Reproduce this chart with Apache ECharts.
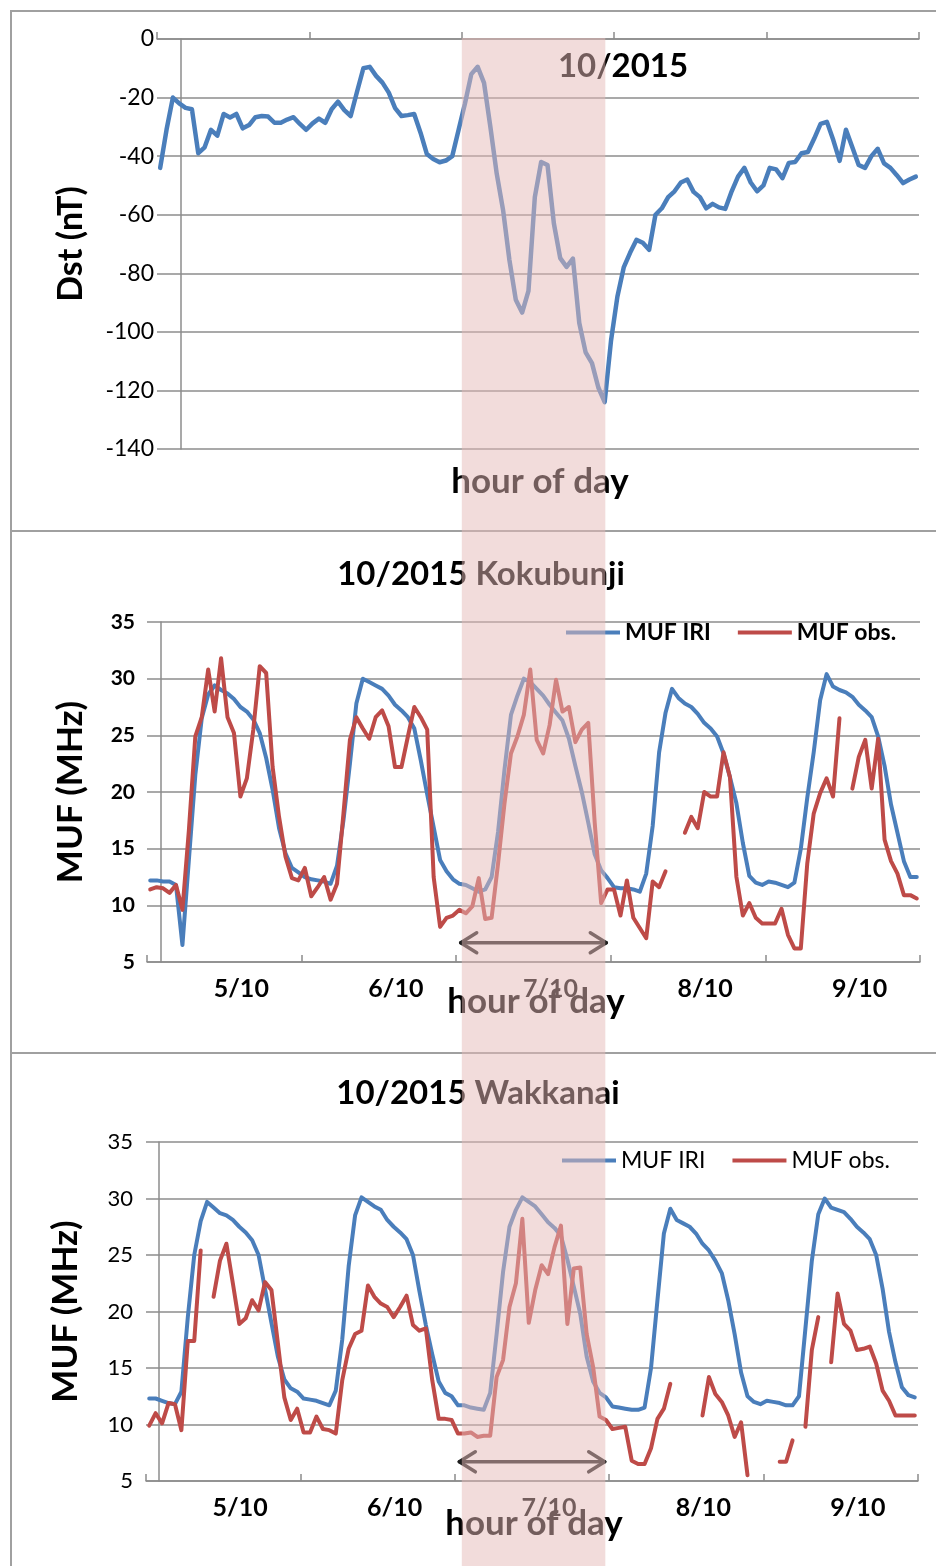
<!DOCTYPE html>
<html>
<head>
<meta charset="utf-8">
<title>Dst and MUF, 5-9/10/2015</title>
<script src="https://cdn.jsdelivr.net/npm/echarts@6/dist/echarts.min.js"></script>
<style>
  html, body { margin: 0; padding: 0; background: #fff; }
  #chart { width: 936px; height: 1566px; }
</style>
</head>
<body>
<div id="chart"></div>
<script>
// hourly values, 5/10 00h .. 9/10 23h (120 hours)
var dayLabels = ['5/10', '6/10', '7/10', '8/10', '9/10'];

var dst = [
  -44, -31, -20, -22, -23.5, -24, -39, -37, -31, -33,
  -25.6, -26.8, -25.6, -30.5, -29.4, -26.7, -26.3, -26.5, -28.6, -28.6,
  -27.5, -26.7, -29, -31, -28.8, -27.2, -28.6, -24, -21.4, -24.3,
  -26.3, -18, -10, -9.5, -12.6, -14.9, -18.3, -23.6, -26.3, -26,
  -25.6, -32, -39.3, -41, -42.1, -41.5, -40, -31, -22, -12,
  -9.5, -15, -30, -46, -58.4, -75.5, -89, -93.4, -86, -54,
  -42, -43, -63, -74.8, -77.8, -75, -97, -107, -110.7, -119,
  -124, -103, -88, -78, -73, -68.6, -69.6, -72, -60, -57.8,
  -54, -52, -49, -48, -52.2, -54, -57.8, -56.3, -57.5, -58,
  -52, -47, -44, -49, -52, -50, -44, -44.5, -47.5, -42.3,
  -42, -39, -38.6, -34, -29, -28.3, -34.5, -41.6, -31, -37,
  -43, -44, -40, -37.5, -42.5, -44, -46.5, -49.2, -48, -47
];

var kokIri = [
  12.2, 12.2, 12.1, 12.1, 11.8, 6.5, 14, 21.5, 26.5, 28.6,
  29.4, 29, 28.7, 28.2, 27.5, 27.1, 26.4, 25.2, 23, 20.2,
  16.8, 14.6, 13.3, 12.9, 12.5, 12.3, 12.2, 12.1, 11.9, 13.5,
  17.5, 22.5, 27.8, 30, 29.7, 29.4, 29.1, 28.5, 27.7, 27.2,
  26.6, 25.6, 22.8, 19.8, 16.9, 14, 13, 12.3, 11.9, 11.8,
  11.5, 11.2, 11.4, 12.5, 16.5, 22, 26.8, 28.5, 30, 29.7,
  29.1, 28.5, 27.7, 27, 26.3, 24.7, 22.3, 20, 17.3, 14.5,
  13.1, 12.4, 11.6, 11.5, 11.5, 11.4, 11.2, 12.8, 17, 23.5,
  27, 29.1, 28.3, 27.8, 27.5, 26.9, 26.1, 25.6, 24.9, 23.4,
  21.3, 19, 15.5, 12.6, 12, 11.8, 12.1, 12, 11.8, 11.6,
  12, 15, 19.5, 23.5, 28.1, 30.4, 29.3, 29, 28.8, 28.4,
  27.7, 27.2, 26.6, 24.9, 22.3, 18.9, 16.4, 13.9, 12.5, 12.5
];

var kokObs = [
  11.4, 11.6, 11.5, 11.1, 11.8, 9.6, 16.6, 24.9, 26.6, 30.8,
  27.1, 31.8, 26.6, 25.2, 19.6, 21.2, 25.5, 31.1, 30.5, 22.2,
  17.8, 14.3, 12.4, 12.2, 13.3, 10.8, 11.6, 12.5, 10.5, 11.9,
  18.1, 24.6, 26.6, 25.6, 24.7, 26.6, 27.2, 25.8, 22.2, 22.2,
  24.9, 27.5, 26.6, 25.5, 12.5, 8.1, 8.9, 9.1, 9.6, 9.3,
  9.9, 12.4, 8.8, 8.9, 13.7, 19, 23.4, 24.9, 26.8, 30.8,
  24.6, 23.4, 25.9, 29.9, 27.1, 27.5, 24.4, 25.5, 26.1, 17.3,
  10.2, 11.4, 11.4, 9.1, 12.2, 8.9, 8, 7.1, 12.1, 11.6,
  13, null, null, 16.4, 17.8, 16.8, 20, 19.6, 19.6, 23.5,
  21.3, 12.5, 9.1, 10.2, 8.9, 8.4, 8.4, 8.4, 9.7, 7.4,
  6.2, 6.2, 13.7, 18.1, 19.9, 21.2, 19.6, 26.5, null, 20.3,
  23.1, 24.6, 20.3, 24.7, 15.8, 13.9, 12.8, 10.9, 10.9, 10.6
];

var wakIri = [
  12.3, 12.3, 12.1, 11.9, 11.8, 12.9, 19.5, 25, 28, 29.7,
  29.2, 28.7, 28.5, 28.1, 27.5, 27, 26.3, 25, 22, 19,
  16, 14, 13.2, 12.9, 12.3, 12.2, 12.1, 11.9, 11.7, 13,
  17.5, 24, 28.5, 30.1, 29.7, 29.3, 29, 28.1, 27.5, 27,
  26.4, 25, 21.8, 18.8, 16.2, 13.8, 12.8, 12.5, 11.7, 11.7,
  11.5, 11.4, 11.3, 12.8, 18, 23.5, 27.5, 29, 30.1, 29.7,
  29.3, 28.6, 27.9, 27.4, 26.7, 24.6, 22.2, 19.8, 16, 13.8,
  12.8, 12.4, 11.6, 11.5, 11.4, 11.3, 11.3, 11.5, 15, 21,
  26.9, 29.1, 28.1, 27.8, 27.5, 26.9, 26, 25.4, 24.5, 23.4,
  21, 18, 14.6, 12.5, 12, 11.8, 12.1, 12, 11.9, 11.7,
  11.7, 12.5, 18.5, 24.5, 28.6, 30, 29.2, 29, 28.8, 28.2,
  27.5, 27, 26.4, 25, 22, 18.2, 15.5, 13.3, 12.6, 12.4
];

var wakObs = [
  9.9, 11, 10.1, 11.9, 11.8, 9.5, 17.4, 17.4, 25.4, null,
  21.3, 24.5, 26, 22.5, 18.9, 19.4, 21, 20.1, 22.6, 21.9,
  17.2, 12.4, 10.4, 11.4, 9.3, 9.3, 10.7, 9.6, 9.5, 9.2,
  13.9, 16.7, 18, 18.3, 22.3, 21.3, 20.7, 20.4, 19.5, 20.4,
  21.4, 18.8, 18.3, 18.5, 13.9, 10.5, 10.5, 10.4, 9.2, 9.2,
  9.3, 8.9, 9, 9, 14.2, 15.7, 20.4, 22.5, 28.2, 19,
  21.9, 24.1, 23.3, 25.7, 27.6, 18.9, 23.8, 23.9, 18, 15.1,
  10.7, 10.4, 9.6, 9.7, 9.8, 6.8, 6.5, 6.5, 7.9, 10.5,
  11.4, 13.6, null, null, null, null, 10.8, 14.2, 12.7, 12,
  10.8, 8.9, 10.2, 5.5, null, null, null, null, 6.7, 6.7,
  8.6, null, 9.8, 16.6, 19.5, null, 15.5, 21.6, 18.9, 18.3,
  16.6, 16.7, 16.9, 15.4, 13, 12.1, 10.8, 10.8, 10.8, 10.8
];

// storm main phase (hours from 5/10 00h), shaded over all panels
var stormStart = 48;
var stormEnd = 70.6;
// double arrow under the MUF panels
var arrowFrom = 48.7;
var arrowTo = 71.3;
var arrowLevel = 6.7;

var blue = '#4a7ebb';
var red = '#be4b48';
var gridColor = '#8c8c8c';
var font = 'Lato';

// hour i is drawn in the middle of its hour slot
function hourly(arr) {
  return arr.map(function (v, i) { return [i + 0.5, v == null ? '-' : v]; });
}

function hourAxis(grid, onZero) {
  return {
    gridIndex: grid, type: 'value', min: 0, max: 120, interval: 24,
    axisLine: { onZero: onZero, lineStyle: { color: gridColor, width: 1.5 } },
    axisTick: { inside: true, length: 7, lineStyle: { color: gridColor, width: 1.5 } },
    axisLabel: { show: false },
    splitLine: { show: false }
  };
}

function dayAxis(grid) {
  return {
    gridIndex: grid, type: 'category', position: 'bottom', data: dayLabels, boundaryGap: true,
    axisLine: { show: false }, axisTick: { show: false }, splitLine: { show: false },
    axisLabel: { interval: 0, margin: 14, padding: [0, 0, 0, 34],
      fontFamily: font, fontWeight: 'bold', fontSize: 25, color: '#000' }
  };
}

// thin axis line where the value axis crosses the hour axis
function crossAxis(grid, min, max, step, offset) {
  return {
    gridIndex: grid, type: 'value', position: 'left', min: min, max: max, interval: step, offset: offset,
    axisLine: { show: true, lineStyle: { color: gridColor, width: 1.5 } },
    axisTick: { show: false }, axisLabel: { show: false }, splitLine: { show: false }
  };
}

function mufAxis(grid, bold, size, margin, gap) {
  return {
    gridIndex: grid, type: 'value', position: 'left', min: 5, max: 35, interval: 5,
    axisLine: { show: false }, axisTick: { show: false },
    splitLine: { lineStyle: { color: gridColor, width: 1.5 } },
    axisLabel: { margin: margin, fontFamily: font, fontSize: size, fontWeight: bold ? 'bold' : 'normal', color: '#000' },
    name: 'MUF (MHz)', nameLocation: 'middle', nameRotate: 90, nameGap: gap,
    nameTextStyle: { fontFamily: font, fontWeight: 'bold', fontSize: 35, color: '#000' }
  };
}

function line(name, xi, yi, data, color, width) {
  return {
    type: 'line', name: name, xAxisIndex: xi, yAxisIndex: yi, data: hourly(data),
    symbol: 'none', itemStyle: { color: color },
    lineStyle: { color: color, width: width, cap: 'round', join: 'round' }
  };
}

function titleText(text, x, y, size) {
  return { text: text, left: x, top: y, textAlign: 'center', padding: 0,
    textStyle: { fontFamily: font, fontWeight: 'bold', fontSize: size, color: '#000' } };
}

function legendAt(x, y, bold) {
  return {
    data: ['MUF IRI', 'MUF obs.'], left: x, top: y, padding: 0,
    icon: 'rect', itemWidth: 54, itemHeight: 4, itemGap: 27,
    textStyle: { fontFamily: font, fontSize: 23, fontWeight: bold ? 'bold' : 'normal', color: '#000' }
  };
}

function border(id, x1, y1, x2, y2) {
  return { type: 'line', id: id, z: 1, silent: true, shape: { x1: x1, y1: y1, x2: x2, y2: y2 },
    style: { stroke: '#a0a0a0', lineWidth: 2 } };
}

var chart = echarts.init(document.getElementById('chart'));
chart.setOption({
  animation: false,
  backgroundColor: '#fff',
  title: [
    titleText('10/2015', 623, 50, 33),
    titleText('hour of day', 540, 464, 35),
    titleText('10/2015 Kokubunji', 481, 558, 33),
    titleText('hour of day', 536, 984, 35),
    titleText('10/2015 Wakkanai', 478, 1077, 33),
    titleText('hour of day', 534, 1506, 35)
  ],
  legend: [legendAt(566, 621, true), legendAt(562, 1149, false)],
  grid: [
    { left: 157, top: 39, width: 762, height: 410 },
    { left: 147, top: 622, width: 773, height: 340 },
    { left: 146, top: 1142, width: 772, height: 339 }
  ],
  xAxis: [hourAxis(0, true), hourAxis(1, false), dayAxis(1), hourAxis(2, false), dayAxis(2)],
  yAxis: [
    {
      gridIndex: 0, type: 'value', position: 'left', min: -140, max: 0, interval: 20,
      axisLine: { show: false }, axisTick: { show: false },
      splitLine: { lineStyle: { color: gridColor, width: 1.5 } },
      axisLabel: { margin: 3, fontFamily: font, fontSize: 23, color: '#000' },
      name: 'Dst (nT)', nameLocation: 'middle', nameRotate: 90, nameGap: 69,
      nameTextStyle: { fontFamily: font, fontWeight: 'bold', fontSize: 34, color: '#000' }
    },
    crossAxis(0, -140, 0, 20, -24),
    mufAxis(1, true, 21, 12, 59),
    crossAxis(1, 5, 35, 5, -14),
    mufAxis(2, false, 22, 13, 63),
    crossAxis(2, 5, 35, 5, -13)
  ],
  series: [
    line('Dst', 0, 0, dst, blue, 4.5),
    line('MUF IRI', 1, 2, kokIri, blue, 4),
    line('MUF obs.', 1, 2, kokObs, red, 4),
    line('MUF IRI', 3, 4, wakIri, blue, 4),
    line('MUF obs.', 3, 4, wakObs, red, 4)
  ]
});

// panel frames, arrows and the shaded storm window (arrows and shade placed through the axes)
var extra = [
  border('bl', 11, 10, 11, 1566),
  border('b1', 10, 11, 936, 11),
  border('b2', 10, 531, 936, 531),
  border('b3', 10, 1053, 936, 1053)
];
[[1, 2], [3, 4]].forEach(function (p, k) {
  var a0 = chart.convertToPixel({ xAxisIndex: p[0] }, arrowFrom);
  var a1 = chart.convertToPixel({ xAxisIndex: p[0] }, arrowTo);
  var ay = chart.convertToPixel({ yAxisIndex: p[1] }, arrowLevel);
  var st = { stroke: '#1e1e1e', lineWidth: 3.5, lineCap: 'round', lineJoin: 'round', fill: null };
  extra.push({ type: 'group', id: 'arrow' + k, z: 50, silent: true, children: [
    { type: 'line', shape: { x1: a0, y1: ay, x2: a1, y2: ay }, style: st },
    { type: 'polyline', shape: { points: [[a0 + 16, ay - 10], [a0, ay], [a0 + 16, ay + 10]] }, style: st },
    { type: 'polyline', shape: { points: [[a1 - 16, ay - 10], [a1, ay], [a1 - 16, ay + 10]] }, style: st }
  ] });
});
var sx0 = chart.convertToPixel({ xAxisIndex: 0 }, stormStart);
var sx1 = chart.convertToPixel({ xAxisIndex: 0 }, stormEnd);
var sy0 = chart.convertToPixel({ yAxisIndex: 0 }, 0) - 1;
extra.push({
  type: 'rect', id: 'storm', z: 100, silent: true,
  shape: { x: sx0, y: sy0, width: sx1 - sx0, height: chart.getHeight() - sy0 },
  style: { fill: 'rgba(229,185,183,0.5)' }
});
chart.setOption({ graphic: extra });
</script>
</body>
</html>
